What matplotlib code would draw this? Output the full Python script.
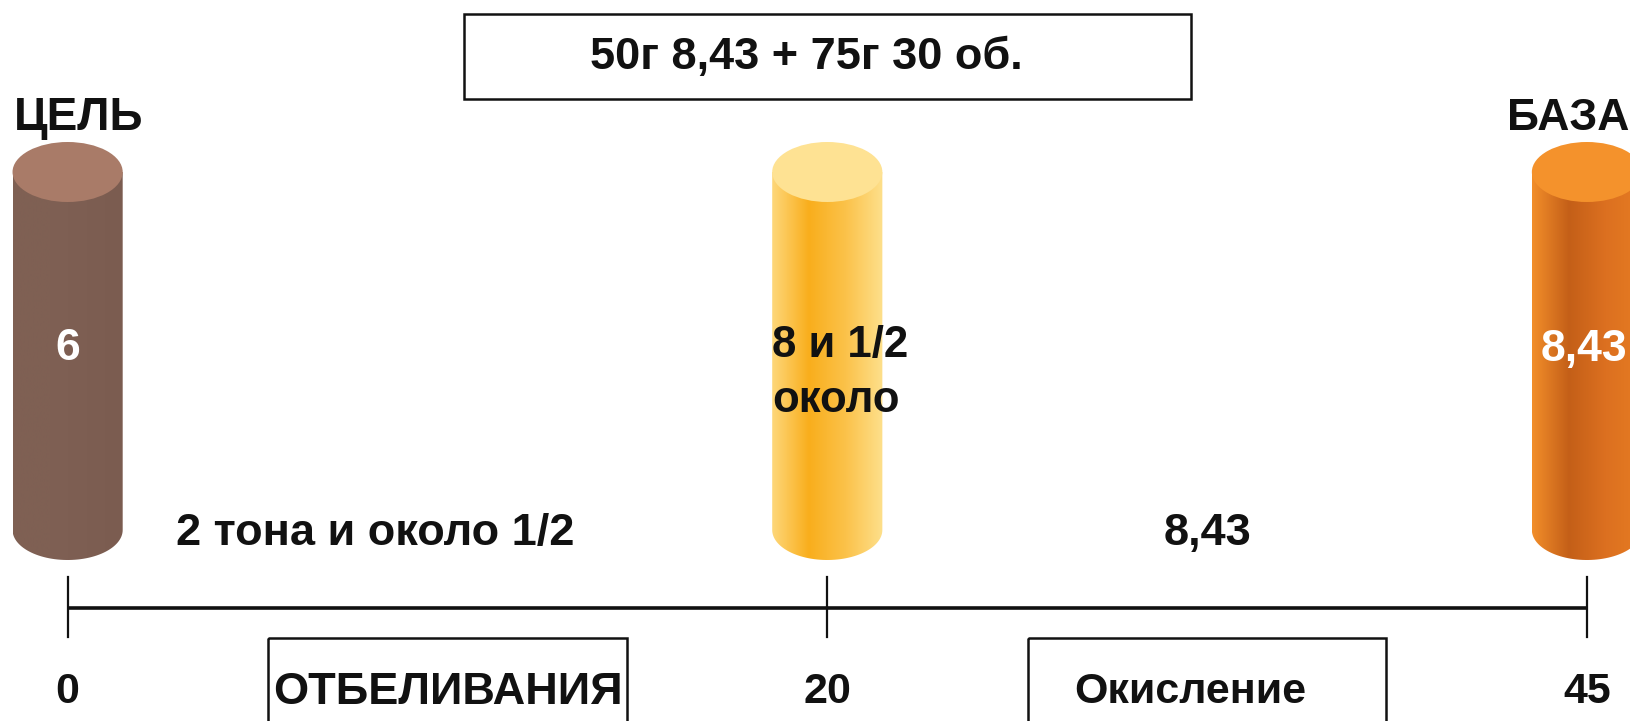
import matplotlib
matplotlib.use("Agg")
import matplotlib.pyplot as plt
import numpy as np
from matplotlib import font_manager
from matplotlib.colors import LinearSegmentedColormap
from matplotlib.patches import Ellipse, Polygon, Rectangle

# data
stations = [0, 1, 2]
tick_labels = ['0', '20', '45']
cyl_labels = ['6', '8 и 1/2\nоколо', '8,43']
top_labels = ['ЦЕЛЬ', '', 'БАЗА']
segment_labels = ['2 тона и около 1/2', '8,43']
process_labels = ['ОТБЕЛИВАНИЯ', 'Окисление']
header = '50г 8,43 + 75г 30 об.'

# cylinder colours: side gradient stops (left -> right), top colour
side_colors = [
    ['#7f6053', '#7f6054', '#7d5e52', '#7b5c50'],
    ['#fed77a', '#f9ae1c', '#fbc24a', '#fee08c'],
    ['#f28e2a', '#c45f18', '#dc7020', '#e67c22'],
]
top_colors = ['#a97b68', '#fee293', '#f4922c']

names = {f.name for f in font_manager.fontManager.ttflist}
narrow = 'Liberation Sans Narrow' if 'Liberation Sans Narrow' in names else 'Liberation Sans'
wide = 'Liberation Sans'
ink = '#111111'

fig = plt.figure(figsize=(16.31, 7.21), dpi=100)
ax = fig.add_axes([0, 0, 1, 1])
ax.set_xlim(-0.089, 2.058)
ax.set_ylim(721, 0)
ax.axis('off')

cw = 0.145      # cylinder width in station units
y_top = 172     # top ellipse centre (px from top)
y_bot = 530     # bottom ellipse centre
eh = 60         # ellipse height

for i, x in enumerate(stations):
    cmap = LinearSegmentedColormap.from_list('c%d' % i, side_colors[i])
    t = np.linspace(0, np.pi, 60)
    pts = [(x - cw / 2, y_top)]
    pts += list(zip(x - cw / 2 * np.cos(t), y_bot + eh / 2 * np.sin(t)))
    pts += [(x + cw / 2, y_top)]
    body = Polygon(pts, closed=True, facecolor='none', edgecolor='none')
    ax.add_patch(body)
    grad = np.linspace(0, 1, 256).reshape(1, -1)
    im = ax.imshow(grad, cmap=cmap, aspect='auto',
                   extent=[x - cw / 2, x + cw / 2, y_bot + eh / 2, y_top],
                   interpolation='bilinear')
    im.set_clip_path(body)
    ax.add_patch(Ellipse((x, y_top), cw, eh, facecolor=top_colors[i],
                         edgecolor='none', zorder=3))

# labels inside cylinders
ax.text(stations[0], 349, cyl_labels[0], ha='center', va='center',
        color='white', fontsize=32, fontweight='bold', family=wide, zorder=4)
ax.text(stations[1] - cw / 2, 373, cyl_labels[1], ha='left', va='center',
        color=ink, fontsize=31.5, fontweight='bold', family=wide,
        linespacing=1.45, zorder=4)
ax.text(2.053, 349, cyl_labels[2], ha='right', va='center',
        color='white', fontsize=32, fontweight='bold', family=wide, zorder=4)

# labels above cylinders
ax.text(-0.071, 118, top_labels[0], ha='left', va='center',
        fontsize=33, fontweight='bold', family=wide, color=ink)
ax.text(2.056, 118, top_labels[2], ha='right', va='center',
        fontsize=32, fontweight='bold', family=wide, color=ink)

# timeline
ax.plot([stations[0], stations[-1]], [608, 608], color=ink, lw=2.6,
        solid_capstyle='butt')
for x, lab in zip(stations, tick_labels):
    ax.plot([x, x], [577, 637], color=ink, lw=1.6)
    ax.text(x, 692, lab, ha='center', va='center', fontsize=31,
            fontweight='bold', family=narrow, color=ink)

# segment labels above the line
ax.text(0.405, 534, segment_labels[0], ha='center', va='center',
        fontsize=32.5, fontweight='bold', family=wide, color=ink)
ax.text(1.5, 534, segment_labels[1], ha='center', va='center',
        fontsize=32.5, fontweight='bold', family=wide, color=ink)

# boxed process labels below the line
bw = 0.472
text_shift = [0.0, -0.022]
label_size = [32.5, 31]
for k, lab in enumerate(process_labels):
    mid = (stations[k] + stations[k + 1]) / 2
    ax.add_patch(Rectangle((mid - bw / 2, 638), bw, 100, facecolor='none',
                           edgecolor=ink, lw=1.8, clip_on=True))
    ax.text(mid + text_shift[k], 692, lab, ha='center', va='center',
            fontsize=label_size[k], fontweight='bold', family=narrow, color=ink)

# header box
hw = 0.957
ax.add_patch(Rectangle((stations[1] - hw / 2, 14), hw, 85, facecolor='none',
                       edgecolor=ink, lw=1.8))
ax.text(stations[1] - 0.028, 58, header, ha='center', va='center', fontsize=32.5,
        fontweight='bold', family=narrow, color=ink)

fig.savefig('out.png', dpi=100)
